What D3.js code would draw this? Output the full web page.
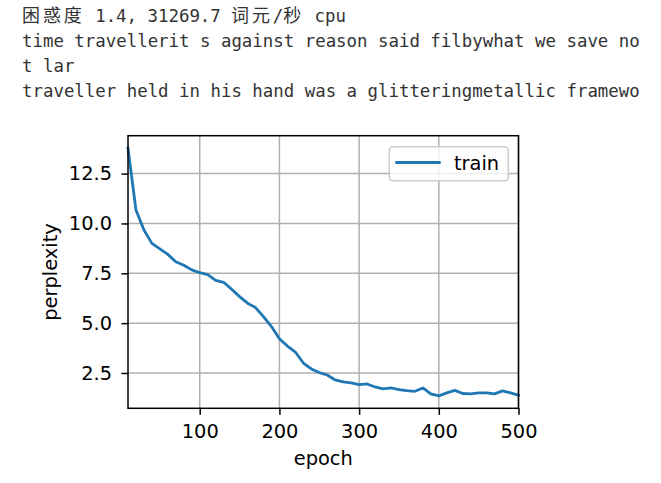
<!DOCTYPE html>
<html>
<head>
<meta charset="utf-8">
<script src="https://cdn.jsdelivr.net/npm/d3@7"></script>
<style>
html,body{margin:0;padding:0;background:#fff;}
svg{display:block;}
</style>
</head>
<body>
<svg id="chart" width="661" height="483"></svg>
<script>
// ---- data ----
const headerLines = [
  "困惑度 1.4, 31269.7 词元/秒 cpu",
  "time travellerit s against reason said filbywhat we save no",
  "t lar",
  "traveller held in his hand was a glitteringmetallic framewo"
];
const epochs = [10,20,30,40,50,60,70,80,90,100,110,120,130,140,150,160,170,180,190,200,
  210,220,230,240,250,260,270,280,290,300,310,320,330,340,350,360,370,380,390,400,
  410,420,430,440,450,460,470,480,490,500];
const trainPerplexity = [13.78,10.67,9.67,9.0,8.72,8.45,8.08,7.9,7.67,7.53,
  7.43,7.15,7.05,6.7,6.33,6.0,5.78,5.33,4.83,4.22,
  3.85,3.55,3.0,2.7,2.52,2.4,2.15,2.05,2.0,1.92,
  1.95,1.8,1.7,1.75,1.67,1.61,1.58,1.75,1.45,1.35,
  1.5,1.63,1.47,1.45,1.5,1.5,1.45,1.6,1.5,1.38];
const xTicks = [100,200,300,400,500];
const yTicks = [2.5,5.0,7.5,10.0,12.5];
const seriesName = "train";
const xLabel = "epoch";
const yLabel = "perplexity";

(function () {
const svg = d3.select("#chart");
const monoFont = "'DejaVu Sans Mono', 'Liberation Mono', monospace";
const cjkFont = "'Noto Sans CJK SC', sans-serif";
const charW = 10.45;

// header text
headerLines.forEach((line, i) => {
  const t = svg.append("text")
    .attr("x", 22).attr("y", 22 + i * 25)
    .attr("font-family", monoFont)
    .attr("font-size", 17.4)
    .attr("fill", "#333");
  const runs = line.match(/[\u3000-\u9fff\uff00-\uffef]+|[^\u3000-\u9fff\uff00-\uffef]+/g);
  let cx = 22;
  runs.forEach(r => {
    const isCJK = /[\u3000-\u9fff\uff00-\uffef]/.test(r);
    if (isCJK) {
      [...r].forEach(ch => {
        t.append("tspan").attr("x", cx).attr("font-family", cjkFont)
          .attr("font-size", 18).text(ch);
        cx += charW * 2;
      });
    } else {
      t.append("tspan").attr("x", cx).text(r);
      cx += charW * r.length;
    }
  });
});

// plot area
const pLeft = 128, pRight = 518.5, pTop = 135.7, pBottom = 408.3;
const yMin = d3.min(trainPerplexity), yMax = d3.max(trainPerplexity);
const pad = 0.05 * (yMax - yMin);
const x = d3.scaleLinear().domain([10, 500]).range([pLeft, pRight]);
const y = d3.scaleLinear().domain([yMin - pad, yMax + pad]).range([pBottom, pTop]);

const tickFont = "'DejaVu Sans', sans-serif";
const fs = 19.4;

// grid
const grid = svg.append("g");
xTicks.forEach(t => grid.append("line")
  .attr("x1", x(t)).attr("x2", x(t)).attr("y1", pTop).attr("y2", pBottom)
  .attr("stroke", "#b0b0b0").attr("stroke-width", 1.5));
yTicks.forEach(t => grid.append("line")
  .attr("x1", pLeft).attr("x2", pRight).attr("y1", y(t)).attr("y2", y(t))
  .attr("stroke", "#b0b0b0").attr("stroke-width", 1.5));

// line
const lineGen = d3.line().x((d, i) => x(epochs[i])).y(d => y(d));
svg.append("path").datum(trainPerplexity)
  .attr("d", lineGen).attr("fill", "none")
  .attr("stroke", "#1f77b4").attr("stroke-width", 2.8)
  .attr("stroke-linejoin", "round").attr("stroke-linecap", "square");

// axes
const xAxis = d3.axisBottom(x).tickValues(xTicks).tickSize(6.5).tickPadding(9).tickFormat(d3.format("d"));
const yAxis = d3.axisLeft(y).tickValues(yTicks).tickSize(6.5).tickPadding(9.5).tickFormat(d => d.toFixed(1));
const gx = svg.append("g").attr("transform", `translate(0,${pBottom})`).call(xAxis);
const gy = svg.append("g").attr("transform", `translate(${pLeft},0)`).call(yAxis);
[gx, gy].forEach(g => {
  g.select(".domain").remove();
  g.selectAll(".tick line").attr("stroke", "#000").attr("stroke-width", 1.5);
  g.selectAll(".tick text").attr("font-family", tickFont).attr("font-size", fs).attr("fill", "#000");
});

// spines
svg.append("rect").attr("x", pLeft).attr("y", pTop)
  .attr("width", pRight - pLeft).attr("height", pBottom - pTop)
  .attr("fill", "none").attr("stroke", "#000").attr("stroke-width", 1.5);

// labels
svg.append("text").attr("x", (pLeft + pRight) / 2).attr("y", 464.5)
  .attr("text-anchor", "middle").attr("font-family", tickFont).attr("font-size", fs)
  .text(xLabel);
svg.append("text").attr("transform", `translate(57,${(pTop + pBottom) / 2}) rotate(-90)`)
  .attr("text-anchor", "middle").attr("font-family", tickFont).attr("font-size", fs)
  .text(yLabel);

// legend
const lg = svg.append("g");
lg.append("rect").attr("x", 389.3).attr("y", 146.7).attr("width", 119).attr("height", 34)
  .attr("rx", 3.5).attr("fill", "#fff").attr("fill-opacity", 0.8)
  .attr("stroke", "#cccccc").attr("stroke-width", 1.5);
lg.append("line").attr("x1", 396.7).attr("x2", 439.3).attr("y1", 162.5).attr("y2", 162.5)
  .attr("stroke", "#1f77b4").attr("stroke-width", 2.8).attr("stroke-linecap", "square");
lg.append("text").attr("x", 454).attr("y", 169.5)
  .attr("font-family", tickFont).attr("font-size", fs).text(seriesName);
})();
</script>
</body>
</html>
